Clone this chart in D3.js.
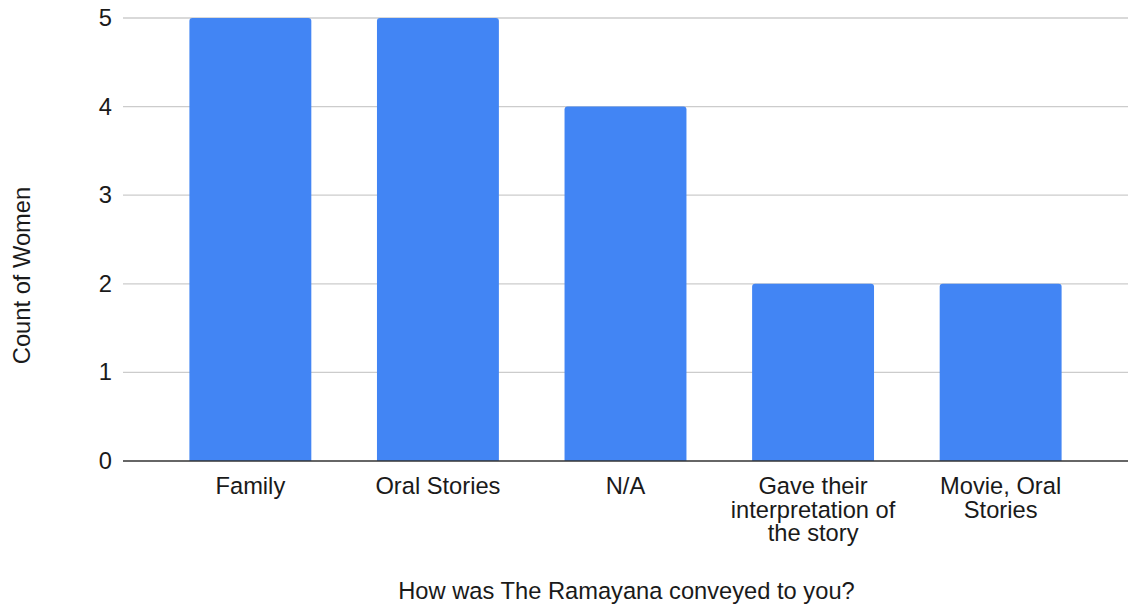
<!DOCTYPE html>
<html>
<head>
<meta charset="utf-8">
<script src="https://cdn.jsdelivr.net/npm/d3@7"></script>
<style>
  html, body { margin: 0; padding: 0; background: #ffffff; }
  svg { display: block; font-family: Arial, "Liberation Sans", sans-serif; }
</style>
</head>
<body>
<svg id="chart" width="1128" height="607"></svg>
<script>
// How The Ramayana was conveyed — counts of women per answer
const categories = [
  ["Family"],
  ["Oral Stories"],
  ["N/A"],
  ["Gave their", "interpretation of", "the story"],
  ["Movie, Oral", "Stories"]
];
const counts = [5, 5, 4, 2, 2];
const yTicks = [0, 1, 2, 3, 4, 5];
const xTitle = "How was The Ramayana conveyed to you?";
const yTitle = "Count of Women";

const W = 1128, H = 607;
const margin = { top: 18, right: 0, bottom: 146, left: 123 };
const fontSize = 23.7;
const svg = d3.select("#chart");

const keys = categories.map(c => c.join(" "));
const x = d3.scaleBand()
  .domain(keys)
  .range([margin.left, W - margin.right])
  .paddingInner(0.35)
  .paddingOuter(0.354);

const y = d3.scaleLinear()
  .domain([0, 5])
  .range([H - margin.bottom, margin.top]);

// horizontal gridlines
svg.append("g")
  .selectAll("line")
  .data(yTicks.filter(t => t > 0))
  .join("line")
  .attr("x1", margin.left).attr("x2", W - margin.right)
  .attr("y1", d => y(d)).attr("y2", d => y(d))
  .attr("stroke", "#cccccc").attr("stroke-width", 1.3);

// y tick labels
const yAxis = d3.axisLeft(y).tickValues(yTicks).tickSize(0).tickPadding(11).tickFormat(d3.format("d"));
const gy = svg.append("g").attr("transform", `translate(${margin.left},0)`).call(yAxis);
gy.select(".domain").remove();
gy.selectAll("text").attr("font-size", fontSize).attr("fill", "#1a1a1a").attr("font-family", "Arial, 'Liberation Sans', sans-serif");

// bars with slightly rounded tops
const r = 3;
svg.append("g")
  .selectAll("path")
  .data(counts.map((v, i) => ({ key: keys[i], v })))
  .join("path")
  .attr("fill", "#4285f4")
  .attr("d", d => {
    const x0 = x(d.key), x1 = x0 + x.bandwidth();
    const yt = y(d.v), yb = y(0);
    return `M${x0},${yb}V${yt + r}Q${x0},${yt} ${x0 + r},${yt}H${x1 - r}Q${x1},${yt} ${x1},${yt + r}V${yb}Z`;
  });

// baseline
svg.append("line")
  .attr("x1", margin.left).attr("x2", W - margin.right)
  .attr("y1", y(0)).attr("y2", y(0))
  .attr("stroke", "#333333").attr("stroke-width", 1.5);

// category labels (wrapped)
const xl = svg.append("g");
categories.forEach((lines, i) => {
  const cx = x(keys[i]) + x.bandwidth() / 2;
  const t = xl.append("text")
    .attr("text-anchor", "middle")
    .attr("font-size", fontSize)
    .attr("fill", "#1a1a1a");
  lines.forEach((ln, j) => {
    t.append("tspan").attr("x", cx).attr("y", 494 + j * 23.5).text(ln);
  });
});

// axis titles
svg.append("text")
  .attr("x", (margin.left + W) / 2 + 1).attr("y", 599)
  .attr("text-anchor", "middle").attr("font-size", fontSize).attr("fill", "#1a1a1a")
  .text(xTitle);

svg.append("text")
  .attr("transform", `translate(30,${(y(0) + y(5)) / 2 + 36}) rotate(-90)`)
  .attr("text-anchor", "middle").attr("font-size", fontSize).attr("fill", "#1a1a1a")
  .text(yTitle);
</script>
</body>
</html>
